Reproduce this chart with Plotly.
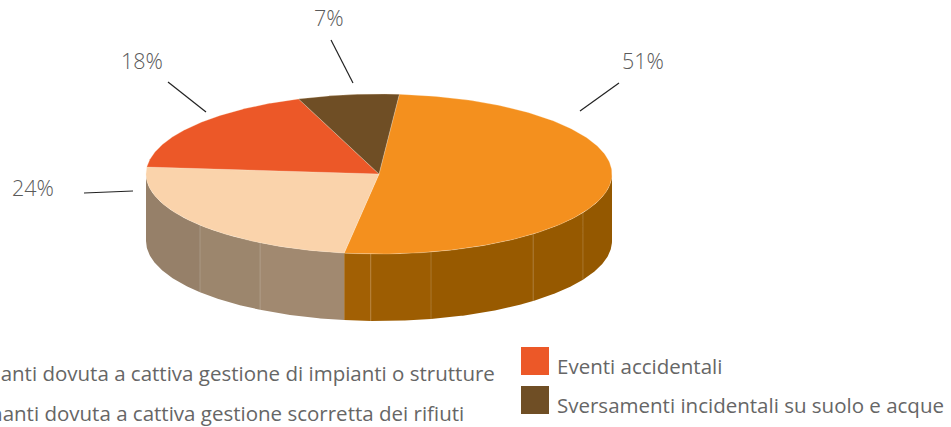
import numpy as np
import plotly.graph_objects as go

# --- data ---
categories = [
    "Emissione di inquinanti dovuta a cattiva gestione di impianti o strutture",
    "Emissione di inquinanti dovuta a cattiva gestione scorretta dei rifiuti",
    "Eventi accidentali",
    "Sversamenti incidentali su suolo e acque",
]
shares = [51, 24, 18, 7]
percent_labels = ["51%", "24%", "18%", "7%"]

# --- style ---
top_colors = ["#F4901E", "#FAD3AB", "#EC5828", "#6F4E25"]
start_angle = 5.0
CX, CY, RX, RY, DEPTH = 379.0, 174.0, 233.0, 80.0, 67.0
split = start_angle + shares[0] * 3.6
# side wall facets: start angle, end angle (deg), colour
wall_facets = [
    (90.0, 118.9, "#945800"), (118.9, 138.6, "#965900"), (138.6, 167.1, "#985A00"),
    (167.1, 182.0, "#9D5D02"), (182.0, split, "#A26004"),
    (split, 210.7, "#A18970"), (210.7, 230.2, "#9C866D"), (230.2, 270.0, "#968069"),
]
TEXT = "#5A5A5A"
FONT = "Open Sans"


def ell(t_deg, dy=0.0):
    t = np.radians(t_deg)
    return CX + RX * np.sin(t), CY - RY * np.cos(t) + dy


fig = go.Figure()

# side wall
for a0, a1, col in wall_facets:
    t = np.linspace(a0, a1, 60)
    x0, y0 = ell(t)
    x1, y1 = ell(t[::-1], DEPTH)
    fig.add_trace(go.Scatter(
        x=np.r_[x0, x1, x0[0]], y=np.r_[y0, y1, y0[0]], mode="lines", fill="toself",
        fillcolor=col, line=dict(width=0), hoverinfo="skip", showlegend=False))
    # thin light seam on the facet's edge
    if a0 not in (90.0, split):
        sx, sy = ell(np.array([a0, a0]), np.array([0.0, DEPTH]))
        fig.add_trace(go.Scatter(
            x=sx, y=sy, mode="lines", line=dict(width=1, color="rgba(255,255,255,0.16)"),
            hoverinfo="skip", showlegend=False))

# top slices
edges = start_angle + np.r_[0, np.cumsum(shares)] * 3.6
for i, (name, col) in enumerate(zip(categories, top_colors)):
    t = np.linspace(edges[i], edges[i + 1], 200)
    x, y = ell(t)
    fig.add_trace(go.Scatter(
        x=np.r_[CX, x, CX], y=np.r_[CY, y, CY], mode="lines", fill="toself", name=name,
        fillcolor=col, line=dict(width=0.6, color="rgba(255,235,210,0.45)"),
        hoverinfo="skip", showlegend=False))

annotations = []
shapes = []

# percent labels and leader lines
label_pos = [(642.5, 60), (33, 187), (141.5, 60), (329, 17)]
leaders = [((580, 111), (619, 83)), ((84, 193), (133, 191)), ((168, 82), (206, 112)), ((331, 40), (353, 83))]
for txt, (lx, ly), (p, q) in zip(percent_labels, label_pos, leaders):
    annotations.append(dict(x=lx, y=ly, xref="x", yref="y", text=txt, showarrow=False,
                            xanchor="center", yanchor="middle",
                            font=dict(family=FONT, size=21.5, color=TEXT, weight=300)))
    shapes.append(dict(type="line", xref="x", yref="y", x0=p[0], y0=p[1], x1=q[0], y1=q[1],
                       line=dict(color="#222222", width=1.2)))

LEG = dict(family=FONT, size=20.5, color="#666666", weight=400)
# legend (the left column runs past the window edge)
annotations.append(dict(x=497, y=373, xref="x", yref="y", text=categories[0], showarrow=False,
                        xanchor="right", yanchor="middle", font=LEG))
annotations.append(dict(x=466, y=413, xref="x", yref="y", text=categories[1], showarrow=False,
                        xanchor="right", yanchor="middle", font=LEG))
for name, col, ky in [(categories[2], top_colors[2], 361), (categories[3], top_colors[3], 400)]:
    shapes.append(dict(type="rect", xref="x", yref="y", x0=521, x1=549, y0=ky - 14, y1=ky + 14,
                       fillcolor=col, line=dict(width=0)))
    annotations.append(dict(x=555, y=ky + 5, xref="x", yref="y", text=name, showarrow=False,
                            xanchor="left", yanchor="middle", font=LEG))

fig.update_layout(
    width=951, height=427, margin=dict(l=0, r=0, t=0, b=0),
    paper_bgcolor="white", plot_bgcolor="white", showlegend=False,
    xaxis=dict(range=[0, 951], visible=False, fixedrange=True),
    yaxis=dict(range=[427, 0], visible=False, fixedrange=True),
    annotations=annotations, shapes=shapes,
)
fig.write_html("out.html", config={"displayModeBar": False},
               post_script="document.body.style.margin='0';document.documentElement.style.overflow='hidden';")
